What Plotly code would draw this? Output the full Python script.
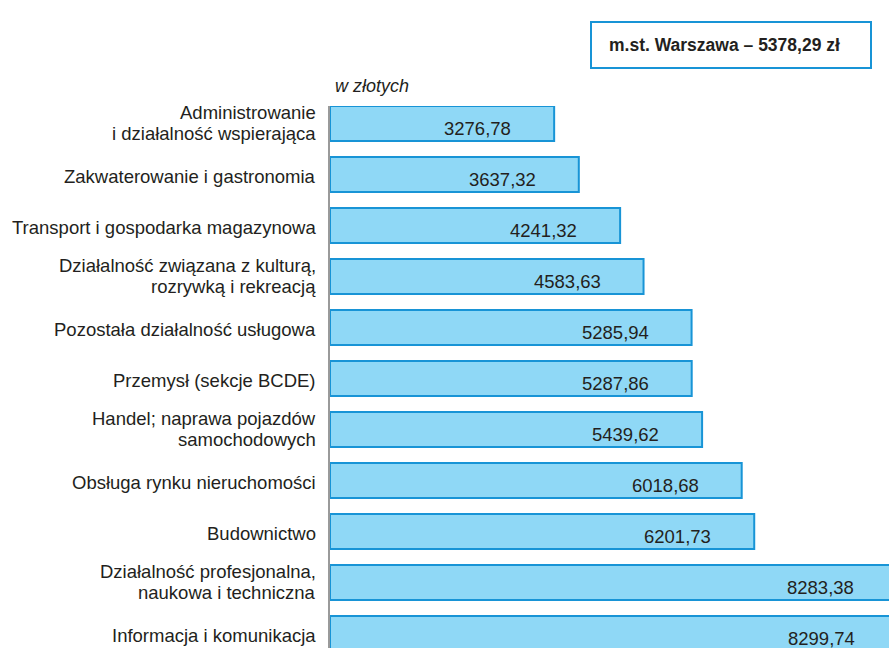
import plotly.graph_objects as go

categories = [
    "Administrowanie<br>i działalność wspierająca",
    "Zakwaterowanie i gastronomia",
    "Transport i gospodarka magazynowa",
    "Działalność związana z kulturą,<br>rozrywką i rekreacją",
    "Pozostała działalność usługowa",
    "Przemysł (sekcje BCDE)",
    "Handel; naprawa pojazdów<br>samochodowych",
    "Obsługa rynku nieruchomości",
    "Budownictwo",
    "Działalność profesjonalna,<br>naukowa i techniczna",
    "Informacja i komunikacja",
]
values = [3276.78, 3637.32, 4241.32, 4583.63, 5285.94, 5287.86,
          5439.62, 6018.68, 6201.73, 8283.38, 8299.74]
value_labels = ["3276,78", "3637,32", "4241,32", "4583,63", "5285,94", "5287,86",
                "5439,62", "6018,68", "6201,73", "8283,38", "8299,74"]
unit_label = "w złotych"
box_label = "m.st. Warszawa – 5378,29 zł"

FONT = "Liberation Sans, Arial, sans-serif"
TXT = "#231f20"
BLUE = "#1894d6"

W, H = 889, 648
L, R, T, B = 330, 0, 106, 0
pw, ph = W - L - R, H - T - B
XMAX = 8172
px_per_unit = pw / XMAX


def px_x(p):
    return (p - L) / pw


def px_y(p):
    return 1 - (p - T) / ph


fig = go.Figure()
fig.add_trace(go.Bar(
    x=values, y=list(range(len(values))), orientation="h",
    width=0.686,
    marker=dict(color="#8fd8f6", line=dict(color=BLUE, width=2)),
    hoverinfo="skip",
))

# value labels inside bars
for i, (v, lab) in enumerate(zip(values, value_labels)):
    fig.add_annotation(x=v - 41 / px_per_unit, y=i, xref="x", yref="y", text=lab,
                       showarrow=False, xanchor="right", yanchor="middle", yshift=-5,
                       font=dict(family=FONT, size=18.5, color=TXT))

# category labels (one annotation per line for tight line spacing)
for i, cat in enumerate(categories):
    lines = cat.split("<br>")
    shifts = [-2] if len(lines) == 1 else [11, -10]
    for line, ys in zip(lines, shifts):
        fig.add_annotation(x=px_x(317), y=i, xref="paper", yref="y", text=line,
                           showarrow=False, xanchor="right", yanchor="middle",
                           yshift=ys, borderpad=0,
                           font=dict(family=FONT, size=18.5, color=TXT))

fig.add_annotation(x=px_x(333), y=px_y(86), xref="paper", yref="paper",
                   text=f"<i>{unit_label}</i>", showarrow=False,
                   xanchor="left", yanchor="middle",
                   font=dict(family=FONT, size=18, color=TXT))

fig.add_shape(type="rect", xref="paper", yref="paper",
              x0=px_x(591), x1=px_x(871), y0=px_y(22), y1=px_y(68),
              line=dict(color=BLUE, width=2), fillcolor="white", layer="below")
fig.add_annotation(x=px_x(724), y=px_y(45), xref="paper", yref="paper",
                   text=f"<b>{box_label}</b>", showarrow=False,
                   xanchor="center", yanchor="middle",
                   font=dict(family=FONT, size=17.5, color=TXT))

fig.update_layout(
    width=W, height=H,
    margin=dict(l=L, r=R, t=T, b=B),
    paper_bgcolor="white", plot_bgcolor="white",
    showlegend=False,
    xaxis=dict(range=[0, XMAX], visible=False, fixedrange=True),
    yaxis=dict(range=[10.284, -0.343], showticklabels=False,
               showgrid=False, zeroline=False, showline=True, linecolor="#9a9a9a",
               linewidth=2, ticks="", fixedrange=True),
)

fig.write_html("out.html", config={"displayModeBar": False},
               post_script="document.body.style.margin='0';")
